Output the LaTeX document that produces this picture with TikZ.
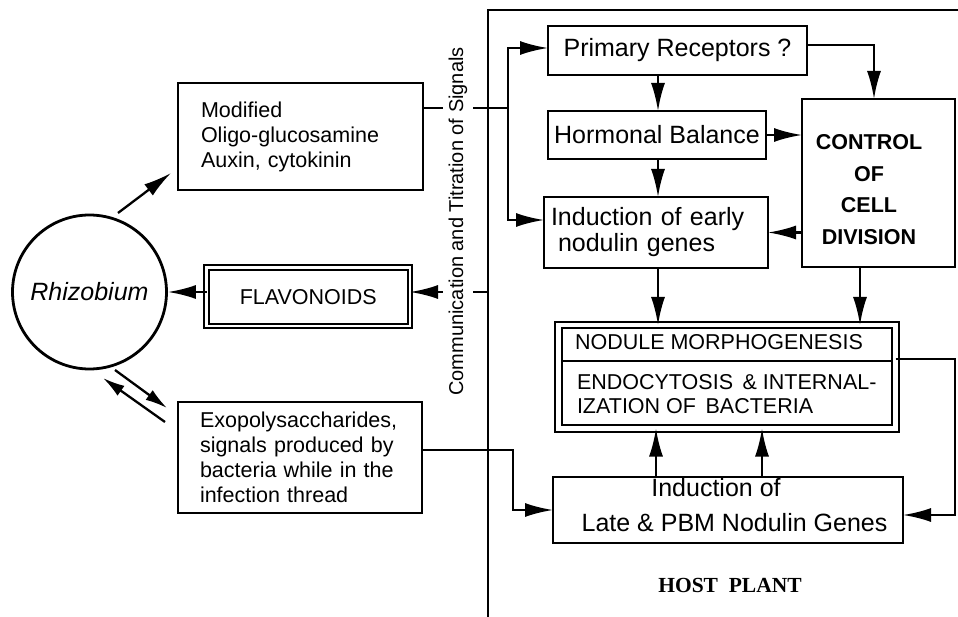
\documentclass[tikz,border=0pt]{standalone}
\usepackage{fontspec}
\setmainfont{Liberation Sans}
\newfontfamily\hostserif{Liberation Serif}
\usetikzlibrary{arrows.meta}
\newcommand\szBig{\fontsize{25}{26}\selectfont}
\newcommand\szSmall{\fontsize{21.5}{25}\selectfont}
\newcommand\szVert{\fontsize{20}{24}\selectfont}
\newcommand\szHost{\fontsize{21.5}{25}\selectfont}
\newcommand\szCtrl{\fontsize{21.5}{31.7}\selectfont}
\begin{document}
\begin{tikzpicture}[x=1pt,y=-1pt,
  box/.style={draw, line width=2.2pt, anchor=north west, inner sep=0pt, outer sep=0pt},
  dbox/.style={draw, line width=1.9pt, double, double distance=2.6pt, anchor=north west, inner sep=0pt, outer sep=0pt},
  arr/.style={line width=2.3pt, -{Latex[length=28pt,width=14pt]}},
  sarr/.style={line width=2.3pt, -{Latex[length=22pt,width=12pt]}},
  ln/.style={line width=2.3pt},
  lbl/.style={inner sep=0pt, outer sep=0pt}
]
\useasboundingbox (0,0) rectangle (958,617);

% left side
\node[draw, circle, line width=2.8pt, minimum size=154pt, inner sep=0pt, font=\szBig\itshape] (rhiz) at (89.5,292) {Rhizobium};

\node[box, minimum width=245pt, minimum height=107pt, text width=199pt, inner xsep=23pt, align=left, font=\szSmall] (mod) at (178,83) {Modified\\Oligo-glucosamine\\Auxin, cytokinin};

\node[dbox, minimum width=203.5pt, minimum height=58.5pt, font=\szSmall] (flav) at (206.5,267.5) {FLAVONOIDS};

\node[box, minimum width=244pt, minimum height=111pt, text width=200pt, inner xsep=22pt, align=left, font=\szSmall] (exo) at (178,402) {Exopolysaccharides,\\signals produced by\\bacteria while in the\\infection thread};

% host plant frame
\coordinate (fb) at (488,617);
\coordinate (ft) at (488,10);
\coordinate (fr) at (958,10);
\draw[ln] (fb) -- (ft) -- (fr);

% right side boxes
\node[box, minimum width=259pt, minimum height=49pt, font=\szBig] (prim) at (548,26) {Primary Receptors ?};
\node[box, minimum width=218pt, minimum height=48pt, font=\szBig] (horm) at (548,111) {Hormonal Balance};
\node[box, minimum width=224pt, minimum height=71pt, text width=210pt, inner xsep=7pt, align=left, font=\szBig] (early) at (544,197) {Induction of early\\\hspace*{7pt}nodulin genes};
\node[box, minimum width=153pt, minimum height=168pt] (ctrl) at (802,99) {};
\node[lbl, anchor=north, align=center, font=\szCtrl\bfseries] (ctrltext) at (869,134.5) {CONTROL\\OF\\CELL\\DIVISION};

\node[dbox, double distance=4.6pt, minimum width=337pt, minimum height=103.5pt] (nod) at (558.5,325) {};
\draw[line width=1.9pt] (562,361) -- (892,361);
\node[lbl, anchor=base west, font=\szSmall] (nodt1) at (575,350) {NODULE MORPHOGENESIS};
\node[lbl, anchor=base west, font=\szSmall] (nodt2) at (577,389) {ENDOCYTOSIS\ \,\& INTERNAL-};
\node[lbl, anchor=base west, font=\szSmall] (nodt3) at (577,413) {IZATION OF\ \,BACTERIA};

\node[box, minimum width=350pt, minimum height=66pt] (late) at (553,477) {};
\node[lbl, anchor=base, font=\szBig] (latet1) at (716,496) {Induction of};
\node[lbl, anchor=base, font=\szBig] (latet2) at (734.5,531) {Late \& PBM Nodulin Genes};

\node[lbl, font=\hostserif\bfseries\szHost] (host) at (730,585) {HOST\ \ PLANT};

% Rhizobium arrows
\coordinate (ru1) at (118,213);
\coordinate (ru2) at (171,173);
\draw[arr] (ru1) -- (ru2);
\coordinate (ra1) at (115,370);
\coordinate (ra2) at (167,408);
\draw[sarr] (ra1) -- (ra2);
\coordinate (rb1) at (165,422);
\coordinate (rb2) at (103,378);
\draw[sarr] (rb1) -- (rb2);
\draw[arr] (flav.west |- rhiz.east) -- (rhiz.east);

% signal lines across the communication column
\coordinate (brk) at (508,108);
\coordinate (bt) at (508,48);
\coordinate (bb) at (508,220);
\draw[ln] (mod.east |- brk) -- (brk);
\draw[arr] (bt |- brk) -- (bt) -- (bt -| prim.west);
\draw[arr] (brk) -- (bb) -- (bb -| early.west);

\coordinate (fl) at (488,292);
\draw[arr] (fl) -- (fl -| flav.east);

\coordinate (ex) at (513,450);
\draw[arr] (exo.east |- ex) -- (ex) -- (ex |- late.west) -- (late.west);

% right side arrows
\coordinate (xa) at (658,0);
\draw[arr] (prim.south -| xa) -- (horm.north -| xa);
\draw[arr] (horm.south -| xa) -- (early.north -| xa);
\draw[arr] (early.south -| xa) -- (nod.north -| xa);
\coordinate (xc) at (874,45);
\draw[arr] (prim.east |- xc) -- (xc) -- (xc |- ctrl.north);
\draw[arr] (horm.east) -- (horm.east -| ctrl.west);
\draw[arr] (ctrl.west |- early.east) -- (early.east);
\coordinate (xb) at (860,0);
\draw[arr] (ctrl.south -| xb) -- (nod.north -| xb);
\coordinate (xl1) at (656,0);
\coordinate (xl2) at (762,0);
\draw[arr] (late.north -| xl1) -- (nod.south -| xl1);
\draw[arr] (late.north -| xl2) -- (nod.south -| xl2);
\coordinate (nr) at (955,359);
\coordinate (nr2) at (955,515);
\draw[arr] (nod.east |- nr) -- (nr) -- (nr2) -- (nr2 -| late.east);

% vertical label (white fill interrupts the signal lines)
\node[lbl, rotate=90, fill=white, inner xsep=2pt, inner ysep=6pt, font=\szVert] (comm) at (458,221.5) {Communication and Titration of Signals};
\end{tikzpicture}
\end{document}
